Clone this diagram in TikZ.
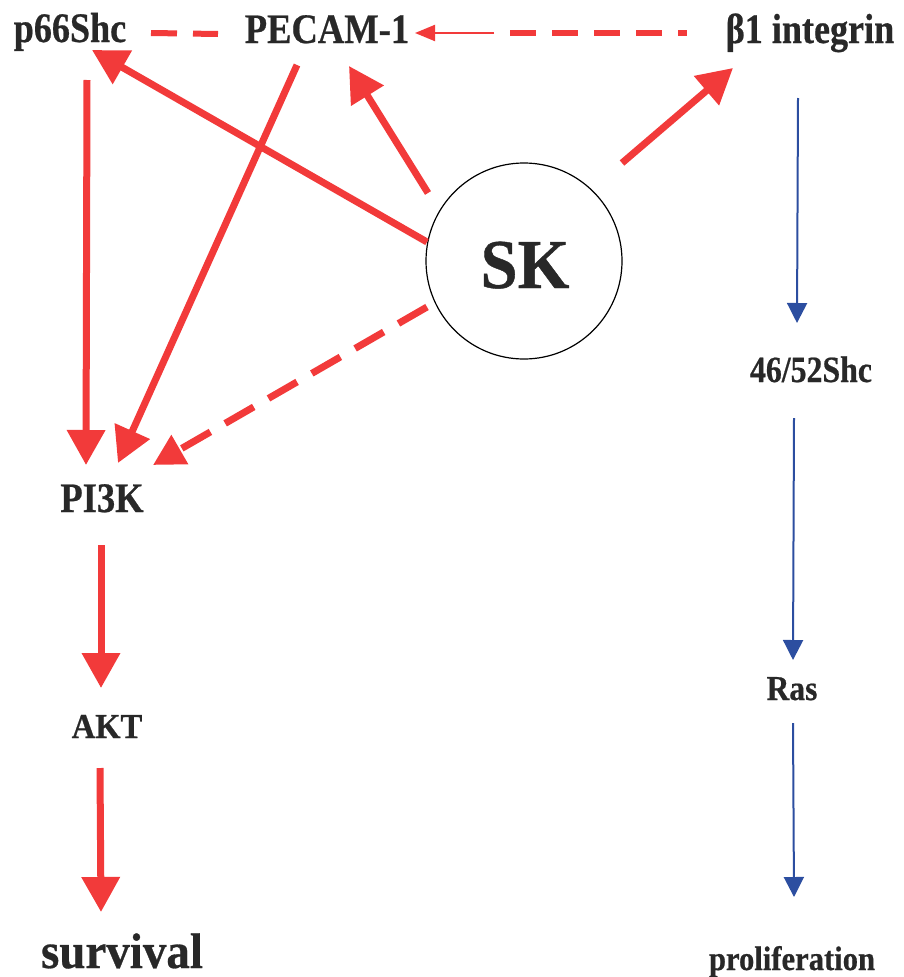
\documentclass[tikz,border=0pt]{standalone}
\usepackage{fontspec}
\usepackage{graphicx}
\setmainfont{Liberation Serif}[BoldFeatures={FakeBold=0.6}]
\usetikzlibrary{arrows.meta,calc}

\definecolor{sigred}{RGB}{242,58,58}
\definecolor{sigblue}{RGB}{44,78,160}
\definecolor{labelgray}{RGB}{40,40,40}

\newcommand{\lbl}[3]{\fontsize{#1}{#1}\selectfont\bfseries\scalebox{#2}[1]{#3}}

\tikzset{
  label/.style={anchor=base, inner sep=0pt, text=labelgray},
  redarrow/.style={draw=sigred, line width=7pt, -{Triangle[length=35pt,width=37pt]}},
  reddash/.style={draw=sigred, line width=7pt, dash pattern=on 33pt off 17pt,
    -{Triangle[length=31pt,width=32pt]}},
  redlink/.style={draw=sigred, line width=6pt, dash pattern=on 26pt off 16pt},
  thinred/.style={draw=sigred, line width=2pt, -{Triangle[length=20pt,width=16pt]}},
  bluearrow/.style={draw=sigblue, line width=2pt, -{Triangle[length=20pt,width=20pt]}},
}

\begin{document}
\begin{tikzpicture}[x=1pt,y=-1pt]
\useasboundingbox (0,0) rectangle (903,977);

% molecules and outcomes
\node[label] (p66)   at (70,42)   {\lbl{42}{0.86}{p66Shc}};
\node[label] (pecam) at (327,43)  {\lbl{42}{0.87}{PECAM-1}};
\node[label] (b1)    at (810,43)  {\lbl{42}{0.86}{β1 integrin}};
\node[label] (pi3k)  at (102,512) {\lbl{42}{0.87}{PI3K}};
\node[label] (akt)   at (107,738) {\lbl{35}{0.93}{AKT}};
\node[label] (surv)  at (122,968) {\lbl{50}{0.94}{survival}};
\node[label] (shc)   at (811,382) {\lbl{37}{0.86}{46/52Shc}};
\node[label] (ras)   at (792,700) {\lbl{35}{0.9}{Ras}};
\node[label] (prol)  at (792,970) {\lbl{34}{0.9}{proliferation}};

% sphingosine kinase
\node[circle, draw=black, line width=1.2pt, minimum size=196pt, inner sep=0pt] (sk) at (524,261) {};
\node[label] (sktext) at (525,288) {\lbl{70}{0.95}{SK}};

% p66Shc -- PECAM-1 association
\draw[redlink] ($(p66.base)+(81,-9)$) -- ($(pecam.base)+(-109,-9)$);

% beta1 integrin -> PECAM-1
\draw[redlink] ($(b1.base)+(-300,-10)$) -- ($(b1.base)+(-123,-10)$);
\draw[thinred] ($(pecam.base)+(167,-10)$) -- ($(pecam.base)+(88,-10)$);

% SK effects
\draw[redarrow] ($(sk.center)+(-97,-19)$) -- ($(p66.base)+(22,8)$);
\draw[redarrow] ($(sk.center)+(-96,-68)$) -- ($(pecam.base)+(22,23)$);
\draw[redarrow] ($(sk.center)+(98,-98)$) -- ($(b1.base)+(-77,25)$);
\draw[reddash] ($(sk.center)+(-97,46)$) -- ($(pi3k.base)+(51,-47)$);

% survival pathway
\draw[redarrow] ($(p66.base)+(17,38)$) -- ($(pi3k.base)+(-16,-47)$);
\draw[redarrow] ($(pecam.base)+(-30,22)$) -- ($(pi3k.base)+(16,-49)$);
\draw[redarrow] ($(pi3k.base)+(-1,33)$) -- ($(akt.base)+(-6,-50)$);
\draw[redarrow] ($(akt.base)+(-7,30)$) -- ($(surv.base)+(-21,-56)$);

% proliferation pathway
\draw[bluearrow] ($(b1.base)+(-12,55)$) -- ($(shc.base)+(-14,-59)$);
\draw[bluearrow] ($(shc.base)+(-17,36)$) -- ($(ras.base)+(1,-40)$);
\draw[bluearrow] ($(ras.base)+(1,23)$) -- ($(prol.base)+(2,-73)$);
\end{tikzpicture}
\end{document}
